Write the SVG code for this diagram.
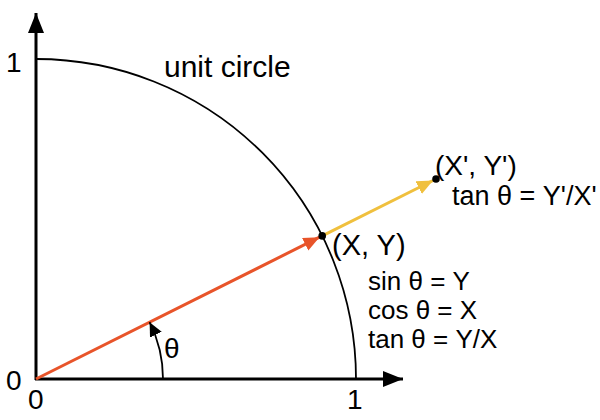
<svg xmlns="http://www.w3.org/2000/svg" width="600" height="420" viewBox="0 0 600 420">
<style>
text{font-family:"Liberation Sans",Arial,sans-serif;fill:#000;font-size:26px}
.num{font-size:28px}
.ax{stroke:#000;stroke-width:3;fill:none}
.arc{stroke:#000;stroke-width:1.8;fill:none}
</style>
<defs>
<marker id="ah" viewBox="0 0 20 16" refX="20" refY="8" markerWidth="20" markerHeight="16" markerUnits="userSpaceOnUse" orient="auto"><path d="M0,0 L20,8 L0,16 Z" fill="#000"/></marker>
<marker id="ao" viewBox="0 0 16 14" refX="16" refY="7" markerWidth="16" markerHeight="14" markerUnits="userSpaceOnUse" orient="auto"><path d="M0,0 L16,7 L0,14 Z" fill="#e8542a"/></marker>
<marker id="ay" viewBox="0 0 16 14" refX="16" refY="7" markerWidth="16" markerHeight="14" markerUnits="userSpaceOnUse" orient="auto"><path d="M0,0 L16,7 L0,14 Z" fill="#f0c03e"/></marker>
<marker id="at" viewBox="0 0 14 13" refX="14" refY="6.5" markerWidth="14" markerHeight="13" markerUnits="userSpaceOnUse" orient="auto"><path d="M0,0 L14,6.5 L0,13 Z" fill="#000"/></marker>
</defs>
<g id="axes">
<line class="ax" x1="36" y1="380" x2="36" y2="13" marker-end="url(#ah)"/>
<line class="ax" x1="35" y1="379" x2="403" y2="379" marker-end="url(#ah)"/>
</g>
<g id="circle">
<path class="arc" d="M36,59 A320,320 0 0 1 356,379"/>
<text x="164" y="77" style="font-size:30px">unit circle</text>
</g>
<g id="connectors">
<line x1="36" y1="379" x2="319.5" y2="237.2" stroke="#e8542a" stroke-width="3" marker-end="url(#ao)"/>
<line x1="322.2" y1="235.9" x2="433" y2="180.5" stroke="#f0c03e" stroke-width="3" marker-end="url(#ay)"/>
<path class="arc" d="M163,379 A127,127 0 0 0 149.6,322.2" stroke-width="2" marker-end="url(#at)"/>
</g>
<g id="point-xy">
<circle cx="322.2" cy="235.9" r="3.8" fill="#000"/>
<text x="332" y="255" style="font-size:29px">(X, Y)</text>
<text x="368" y="290">sin θ = Y</text>
<text x="368" y="319">cos θ = X</text>
<text x="368" y="348">tan θ = Y/X</text>
</g>
<g id="point-xy2">
<circle cx="436" cy="179" r="3.8" fill="#000"/>
<text x="435" y="175" style="font-size:28px">(X', Y')</text>
<text x="452" y="205" style="font-size:27px">tan θ = Y'/X'</text>
</g>
<g id="labels">
<text class="num" x="164" y="358">θ</text>
<text class="num" x="6" y="72">1</text>
<text class="num" x="6" y="390">0</text>
<text class="num" x="28" y="409">0</text>
<text class="num" x="347" y="409">1</text>
</g>
</svg>
